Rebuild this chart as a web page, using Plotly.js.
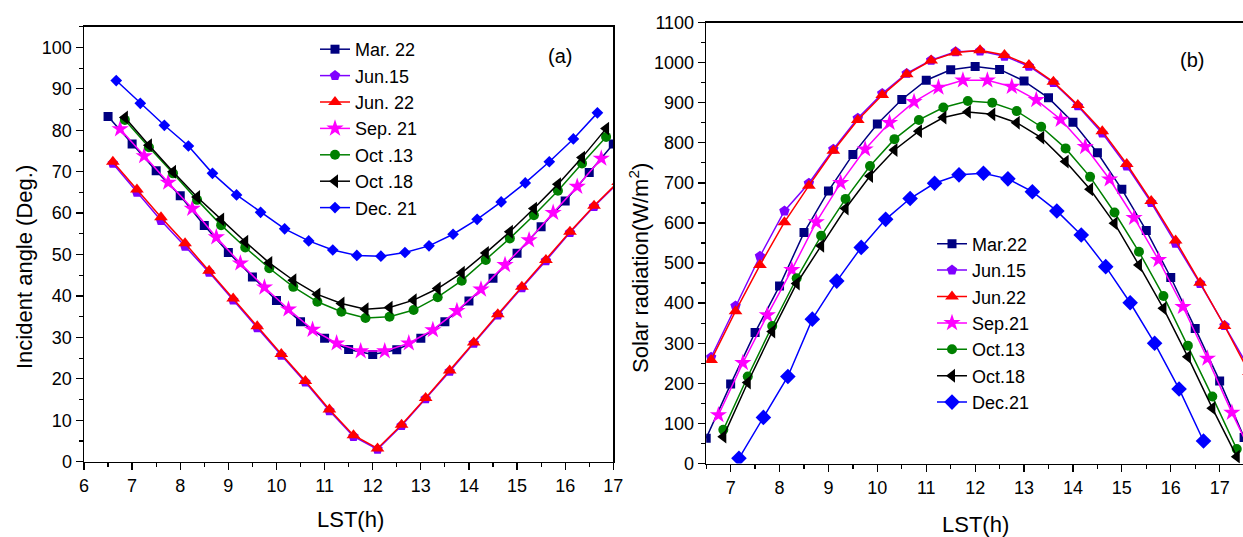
<!DOCTYPE html>
<html>
<head>
<meta charset="utf-8">
<script src="https://cdn.plot.ly/plotly-3.0.1.min.js"></script>
<style>
html,body{margin:0;padding:0;background:#fff;overflow:hidden;}
#chart{width:1243px;height:537px;}
</style>
</head>
<body>
<div id="chart"></div>
<script>
// ---------- DATA ----------
// (a) Incident angle (Deg.)
const seriesNames = ["Mar. 22","Jun.15","Jun. 22","Sep. 21","Oct .13","Oct .18","Dec. 21"];
const seriesNamesB = ["Mar.22","Jun.15","Jun.22","Sep.21","Oct.13","Oct.18","Dec.21"];

const xMarA = [6.5,7,7.5,8,8.5,9,9.5,10,10.5,11,11.5,12,12.5,13,13.5,14,14.5,15,15.5,16,16.5,17];
const marA  = [83.3,76.7,70.2,64.2,57.0,50.5,44.6,38.9,33.8,29.8,27.1,25.9,27.0,29.8,33.8,38.8,44.3,50.3,56.7,62.9,69.8,76.7];

const xJunA = [6.6,7.1,7.6,8.1,8.6,9.1,9.6,10.1,10.6,11.1,11.6,12.1,12.6,13.1,13.6,14.1,14.6,15.1,15.6,16.1,16.6,17.1];
const jun15A = [72.0,65.0,58.2,52.0,45.7,39.0,32.3,25.7,19.2,12.3,6.1,3.0,8.7,15.2,21.8,28.6,35.4,42.0,48.5,55.3,61.6,67.3];
const jun22A = [72.4,65.7,59.0,52.7,46.1,39.4,32.7,26.0,19.5,12.6,6.4,3.2,8.9,15.4,22.0,28.8,35.6,42.2,48.7,55.5,61.8,67.5];

const xSepA = [6.75,7.25,7.75,8.25,8.75,9.25,9.75,10.25,10.75,11.25,11.75,12.25,12.75,13.25,13.75,14.25,14.75,15.25,15.75,16.25,16.75];
const sepA  = [80.3,73.8,67.4,61.1,54.2,47.9,42.1,36.8,31.9,28.6,26.7,26.7,28.6,31.8,36.4,41.6,47.5,53.5,60.1,66.4,73.2];

const xOctA = [6.85,7.35,7.85,8.35,8.85,9.35,9.85,10.35,10.85,11.35,11.85,12.35,12.85,13.35,13.85,14.35,14.85,15.35,15.85,16.35,16.85];
const oct13A = [82.5,75.9,69.6,63.2,57.1,51.7,46.7,42.2,38.6,36.2,34.7,35.0,36.6,39.7,43.7,48.7,53.9,59.5,65.4,72.0,78.4];
const oct18A = [83.1,76.4,70.0,63.9,58.5,53.1,48.0,43.8,40.4,38.2,36.8,37.2,39.0,41.8,45.6,50.4,55.5,61.1,67.0,73.4,80.4];

const xDecA = [6.67,7.17,7.67,8.17,8.67,9.17,9.67,10.17,10.67,11.17,11.67,12.17,12.67,13.17,13.67,14.17,14.67,15.17,15.67,16.17,16.67];
const decA  = [92.0,86.5,81.2,76.2,69.6,64.4,60.2,56.2,53.3,51.1,49.8,49.6,50.5,52.1,54.9,58.5,62.7,67.3,72.4,77.9,84.2];

// (b) Solar radiation (W/m2)
const xMarB = [6.5,7,7.5,8,8.5,9,9.5,10,10.5,11,11.5,12,12.5,13,13.5,14,14.5,15,15.5,16,16.5,17,17.5];
const marB  = [63,198,327,443,576,680,771,847,908,956,982,990,983,954,912,851,775,684,581,464,337,206,65];

const xJunB = [6.6,7.1,7.6,8.1,8.6,9.1,9.6,10.1,10.6,11.1,11.6,12.1,12.6,13.1,13.6,14.1,14.6,15.1,15.6,16.1,16.6,17.1,17.6];
const jun15B = [265,393,517,630,699,784,861,923,973,1006,1027,1029,1016,991,950,892,824,742,651,549,449,344,238];
const jun22B = [258,380,495,602,693,780,857,919,971,1005,1025,1031,1019,994,952,894,829,747,655,556,451,343,228];

const xSepB = [6.75,7.25,7.75,8.25,8.75,9.25,9.75,10.25,10.75,11.25,11.75,12.25,12.75,13.25,13.75,14.25,14.75,15.25,15.75,16.25,16.75,17.25,17.75];
const sepB  = [121,251,370,483,602,700,784,850,902,938,956,956,940,907,858,790,709,613,508,391,262,127,0];

const xOctB = [6.85,7.35,7.85,8.35,8.85,9.35,9.85,10.35,10.85,11.35,11.85,12.35,12.85,13.35,13.85,14.35,14.85,15.35,15.85,16.35,16.85,17.35];
const oct13B = [84,217,343,462,568,660,742,809,857,888,904,900,879,840,786,715,626,528,418,294,167,36];
const oct18B = [67,202,329,449,543,636,717,782,829,863,877,871,850,813,753,684,599,495,387,266,138,17];

const xDecB = [7.17,7.67,8.17,8.67,9.17,9.67,10.17,10.67,11.17,11.67,12.17,12.67,13.17,13.67,14.17,14.67,15.17,15.67,16.17,16.67];
const decB  = [13,115,217,360,455,539,609,661,699,720,724,710,678,630,570,491,401,300,186,56];

// ---------- STYLE ----------
const W = 1243, H = 537;
const px = v => v / W;
const py = v => 1 - v / H;
const FONT = "Liberation Sans, Arial, sans-serif";

const styles = [
  {color:"#000080", symbol:"square", size:9},
  {color:"#7F00FF", symbol:"pentagon", size:11},
  {color:"#FF0000", symbol:"triangle-up", size:12},
  {color:"#FF00FF", symbol:"star", size:13},
  {color:"#008000", symbol:"circle", size:10},
  {color:"#000000", symbol:"triangle-left", size:12},
  {color:"#0000FF", symbol:"diamond", size:9}
];

const dataA = [[xMarA,marA],[xJunA,jun15A],[xJunA,jun22A],[xSepA,sepA],[xOctA,oct13A],[xOctA,oct18A],[xDecA,decA]];
const dataB = [[xMarB,marB],[xJunB,jun15B],[xJunB,jun22B],[xSepB,sepB],[xOctB,oct13B],[xOctB,oct18B],[xDecB,decB]];

const traces = [];
dataA.forEach((d,i) => {
  const s = styles[i];
  traces.push({
    x: d[0], y: d[1], name: seriesNames[i], type: "scatter", mode: "lines+markers",
    xaxis: "x", yaxis: "y", legend: "legend",
    line: {color: s.color, width: 1.5},
    marker: {color: s.color, symbol: s.symbol, size: (i === 6 ? 9 : s.size), line: {width: 0}}
  });
});
dataB.forEach((d,i) => {
  const s = styles[i];
  traces.push({
    x: d[0], y: d[1], name: seriesNamesB[i], type: "scatter", mode: "lines+markers",
    xaxis: "x2", yaxis: "y2", legend: "legend2",
    line: {color: s.color, width: 1.5},
    marker: {color: s.color, symbol: s.symbol, size: (i === 6 ? 12 : s.size), line: {width: 0}}
  });
});

const axisCommon = {
  showgrid: false, zeroline: false, showline: true, linecolor: "#000", linewidth: 1.5,
  ticks: "outside", ticklen: 7, tickwidth: 1.3, tickcolor: "#000",
  tickfont: {family: FONT, size: 18, color: "#000"}
};

const layout = {
  width: W, height: H,
  margin: {l:0, r:0, t:0, b:0},
  paper_bgcolor: "#fff", plot_bgcolor: "#fff",
  showlegend: true,
  xaxis: Object.assign({}, axisCommon, {
    domain: [px(84), px(613.3)], range: [6, 17], dtick: 1, tick0: 0,
    mirror: true, anchor: "y",
    minor: {dtick: 0.5, ticks: "outside", ticklen: 4, tickwidth: 1.2, tickcolor: "#000"}
  }),
  yaxis: Object.assign({}, axisCommon, {
    domain: [py(461.7), py(26.7)], range: [0, 105], dtick: 10, tick0: 0,
    mirror: true, anchor: "x",
    minor: {dtick: 5, ticks: "outside", ticklen: 4, tickwidth: 1.2, tickcolor: "#000"}
  }),
  xaxis2: Object.assign({}, axisCommon, {
    domain: [px(706.2), 1], range: [6.5, 6.5 + (W - 706.2) / 48.9], dtick: 1, tick0: 0,
    mirror: true, anchor: "y2",
    minor: {dtick: 0.5, ticks: "outside", ticklen: 4, tickwidth: 1.2, tickcolor: "#000"}
  }),
  yaxis2: Object.assign({}, axisCommon, {
    domain: [py(463.5), py(22.5)], range: [0, 1100], dtick: 100, tick0: 0,
    mirror: false, anchor: "x2",
    minor: {dtick: 50, ticks: "outside", ticklen: 4, tickwidth: 1.2, tickcolor: "#000"}
  }),
  legend: {
    x: px(315), y: py(31), xanchor: "left", yanchor: "top",
    bgcolor: "rgba(0,0,0,0)", borderwidth: 0,
    font: {family: FONT, size: 18, color: "#000"}
  },
  legend2: {
    x: px(932), y: py(225.5), xanchor: "left", yanchor: "top",
    bgcolor: "rgba(0,0,0,0)", borderwidth: 0,
    font: {family: FONT, size: 18, color: "#000"}
  },
  annotations: [
    {text: "(a)", xref: "paper", yref: "paper", x: px(560), y: py(56), showarrow: false,
     xanchor: "center", yanchor: "middle", font: {family: FONT, size: 20, color: "#000"}},
    {text: "(b)", xref: "paper", yref: "paper", x: px(1192), y: py(60), showarrow: false,
     xanchor: "center", yanchor: "middle", font: {family: FONT, size: 20, color: "#000"}},
    {text: "Incident angle (Deg.)", xref: "paper", yref: "paper", x: px(24), y: py(267), textangle: -90,
     showarrow: false, xanchor: "center", yanchor: "middle", font: {family: FONT, size: 22, color: "#000"}},
    {text: "Solar radiation(W/m<sup>2</sup>)", xref: "paper", yref: "paper", x: px(639), y: py(268), textangle: -90,
     showarrow: false, xanchor: "center", yanchor: "middle", font: {family: FONT, size: 22, color: "#000"}},
    {text: "LST(h)", xref: "paper", yref: "paper", x: px(350), y: py(519), showarrow: false,
     xanchor: "center", yanchor: "middle", font: {family: FONT, size: 22, color: "#000"}},
    {text: "LST(h)", xref: "paper", yref: "paper", x: px(975), y: py(524), showarrow: false,
     xanchor: "center", yanchor: "middle", font: {family: FONT, size: 22, color: "#000"}}
  ]
};

Plotly.newPlot("chart", traces, layout, {displayModeBar: false, staticPlot: true});
</script>
</body>
</html>
